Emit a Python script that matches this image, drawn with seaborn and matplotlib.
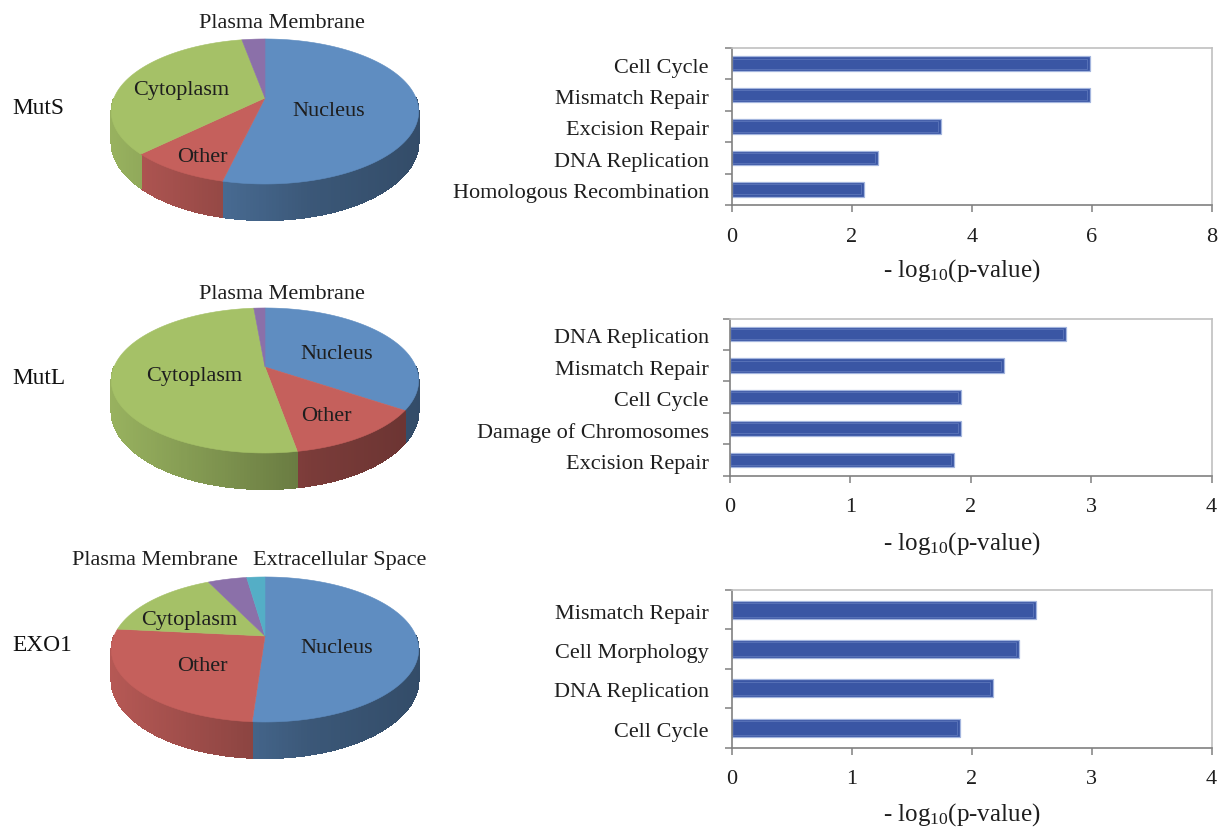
import numpy as np
import matplotlib
matplotlib.use("Agg")
import matplotlib.pyplot as plt
from matplotlib.collections import PolyCollection
from matplotlib.patches import Rectangle
from matplotlib.transforms import ScaledTranslation
import seaborn as sns

W, H = 1229, 828

# Cellular location shares (percent), clockwise from twelve o'clock
muts_locations = ["Nucleus", "Other", "Cytoplasm", "Plasma Membrane"]
muts_shares = [53.7, 9.0, 34.4, 2.9]
mutl_locations = ["Nucleus", "Other", "Cytoplasm", "Plasma Membrane"]
mutl_shares = [34.4, 12.8, 51.4, 1.4]
exo1_locations = ["Nucleus", "Other", "Cytoplasm", "Plasma Membrane", "Extracellular Space"]
exo1_shares = [51.1, 25.5, 16.2, 4.9, 2.3]

# Enriched pathways, -log10(p-value)
muts_pathways = ["Cell Cycle", "Mismatch Repair", "Excision Repair", "DNA Replication", "Homologous Recombination"]
muts_scores = [5.97, 5.97, 3.49, 2.44, 2.20]
mutl_pathways = ["DNA Replication", "Mismatch Repair", "Cell Cycle", "Damage of Chromosomes", "Excision Repair"]
mutl_scores = [2.79, 2.28, 1.92, 1.92, 1.86]
exo1_pathways = ["Mismatch Repair", "Cell Morphology", "DNA Replication", "Cell Cycle"]
exo1_scores = [2.54, 2.39, 2.175, 1.90]

COLORS = {
    "Nucleus": "#5f8dc1",
    "Other": "#c5605c",
    "Cytoplasm": "#a5c167",
    "Plasma Membrane": "#8b70a9",
    "Extracellular Space": "#54aec6",
}
BAR_FILL = "#3a56a4"
BAR_EDGE = "#a3b5de"
BAR_INNER = "#5c76ba"
TEXT = "#1e1e1e"

sns.set_theme(style="white")
plt.rcParams["font.family"] = ["Liberation Serif", "DejaVu Serif"]
plt.rcParams["mathtext.fontset"] = "custom"
plt.rcParams["mathtext.rm"] = "Liberation Serif"
plt.rcParams["mathtext.it"] = "Liberation Serif"
plt.rcParams["mathtext.default"] = "rm"

fig = plt.figure(figsize=(W / 100, H / 100), dpi=100, facecolor="white")

# Overlay in image pixels holding the tilted pies and their labels
canvas = fig.add_axes([0, 0, 1, 1], zorder=2)
canvas.set_xlim(0, W)
canvas.set_ylim(H, 0)
canvas.axis("off")
canvas.patch.set_alpha(0)

TILT_K, RX, RY, DEPTH = 0.186, 151.0, 70.0, 29.5


def project(angle_deg, cx, cy):
    """Perspective projection of a point on the unit rim; angle runs clockwise from the top."""
    a = np.radians(angle_deg)
    px, py = np.sin(a), np.cos(a)
    w = 1 + TILT_K * py
    return cx + RX * px / w, cy - RY * py / w, w


def side_shade(x_rel):
    return np.interp(x_rel, [-1, -0.3, 0.3, 1], [0.92, 0.76, 0.62, 0.54])


def draw_pie(names, shares, cx, cy):
    edges = 360 * np.cumsum([0] + list(shares)) / np.sum(shares)
    polys, colors = [], []
    for name, t0, t1 in zip(names, edges[:-1], edges[1:]):
        base = np.array(matplotlib.colors.to_rgb(COLORS[name]))
        steps = np.arange(t0, t1 + 1.0, 1.0)
        steps[-1] = t1
        for a0, a1 in zip(steps[:-1], steps[1:]):
            # the far part of the wall sits behind the top face
            if np.cos(np.radians((a0 + a1) / 2)) > 0.0:
                continue
            x0, y0, w0 = project(a0, cx, cy)
            x1, y1, w1 = project(a1, cx, cy)
            polys.append([(x0, y0), (x1, y1), (x1, y1 + DEPTH / w1), (x0, y0 + DEPTH / w0)])
            colors.append(base * side_shade(((x0 + x1) / 2 - cx) / 154))
    canvas.add_collection(PolyCollection(polys, facecolors=colors, edgecolors=colors,
                                         linewidths=0.5, antialiaseds=False))
    for name, t0, t1 in zip(names, edges[:-1], edges[1:]):
        angles = np.linspace(t0, t1, max(int(t1 - t0), 2) + 1)
        xs, ys, _ = project(angles, cx, cy)
        canvas.fill(np.r_[cx, xs], np.r_[cy, ys], color=COLORS[name], lw=0.4)


draw_pie(muts_locations, muts_shares, 265, 99)
draw_pie(mutl_locations, mutl_shares, 265, 368)
draw_pie(exo1_locations, exo1_shares, 265, 637)

PIE_FS = 16
pie_labels = [
    ("Plasma Membrane", 282, 24), ("Cytoplasm", 181, 90), ("Nucleus", 329, 111), ("Other", 202, 157),
    ("Plasma Membrane", 282, 295), ("Nucleus", 337, 355), ("Cytoplasm", 194, 377), ("Other", 326, 417),
    ("Plasma Membrane", 155, 561), ("Extracellular Space", 340, 561), ("Cytoplasm", 189, 621),
    ("Nucleus", 337, 649), ("Other", 202, 667),
]
for label, x, y in pie_labels:
    canvas.text(x, y, label, ha="center", va="center", fontsize=PIE_FS, color=TEXT)
for label, y in [("MutS", 109), ("MutL", 379), ("EXO1", 646)]:
    canvas.text(12, y, label, ha="left", va="center", fontsize=16.8, color="#111111")


def draw_bars(cats, vals, box, xmax, xticks, label_y):
    left, right, top, bottom = box
    ax = fig.add_axes([left / W, 1 - bottom / H, (right - left) / W, (bottom - top) / H], zorder=1)
    sns.barplot(x=vals, y=cats, orient="h", color=BAR_FILL, saturation=1, width=0.46,
                edgecolor=BAR_EDGE, linewidth=0.9, ax=ax)
    px_x = (right - left) / xmax
    px_y = (bottom - top) / len(cats)
    for bar in list(ax.patches):
        b = bar.get_bbox()
        ax.add_patch(Rectangle((b.x0, b.y0 + 2.2 / px_y), b.width - 3.0 / px_x, b.height - 4.4 / px_y,
                               fill=False, edgecolor=BAR_INNER, linewidth=0.6, zorder=bar.get_zorder() + 0.1))
    ax.set_xlim(0, xmax)
    ax.set_ylim(len(cats) - 0.5, -0.5)
    ax.set_xticks(xticks)
    ax.set_xticklabels([str(t) for t in xticks])
    ax.set_yticks(np.arange(len(cats) + 1) - 0.5, minor=True)
    ax.tick_params(axis="y", which="major", length=0, pad=(left - 709) * 0.72, labelsize=16,
                   labelcolor=TEXT, left=False)
    ax.tick_params(axis="y", which="minor", length=5.0, width=1.1, color="#808080", left=True)
    ax.tick_params(axis="x", which="major", length=5.0, width=1.1, color="#808080", bottom=True,
                   pad=10.5, labelsize=16, labelcolor=TEXT)
    nudge = ScaledTranslation(0, -1.0 / 100, fig.dpi_scale_trans)
    for tick_label in ax.get_yticklabels():
        tick_label.set_transform(tick_label.get_transform() + nudge)
    for side, col in [("left", "#808080"), ("bottom", "#808080"), ("top", "#c0c0c0"), ("right", "#c0c0c0")]:
        ax.spines[side].set_visible(True)
        ax.spines[side].set_color(col)
        ax.spines[side].set_linewidth(1.2)
    ax.set_ylabel("")
    ax.set_xlabel(r"- log$_{10}$(p-value)", fontsize=18, color=TEXT, va="center")
    ax.xaxis.set_label_coords((962 - left) / (right - left), -(label_y - bottom) / (bottom - top))
    return ax


draw_bars(muts_pathways, muts_scores, (732, 1211.5, 49, 206), 8, [0, 2, 4, 6, 8], 271)
draw_bars(mutl_pathways, mutl_scores, (730, 1211.5, 319.5, 476.5), 4, [0, 1, 2, 3, 4], 544)
draw_bars(exo1_pathways, exo1_scores, (732, 1211.5, 591, 748.5), 4, [0, 1, 2, 3, 4], 815)

fig.savefig("out.png", dpi=100, facecolor="white")
